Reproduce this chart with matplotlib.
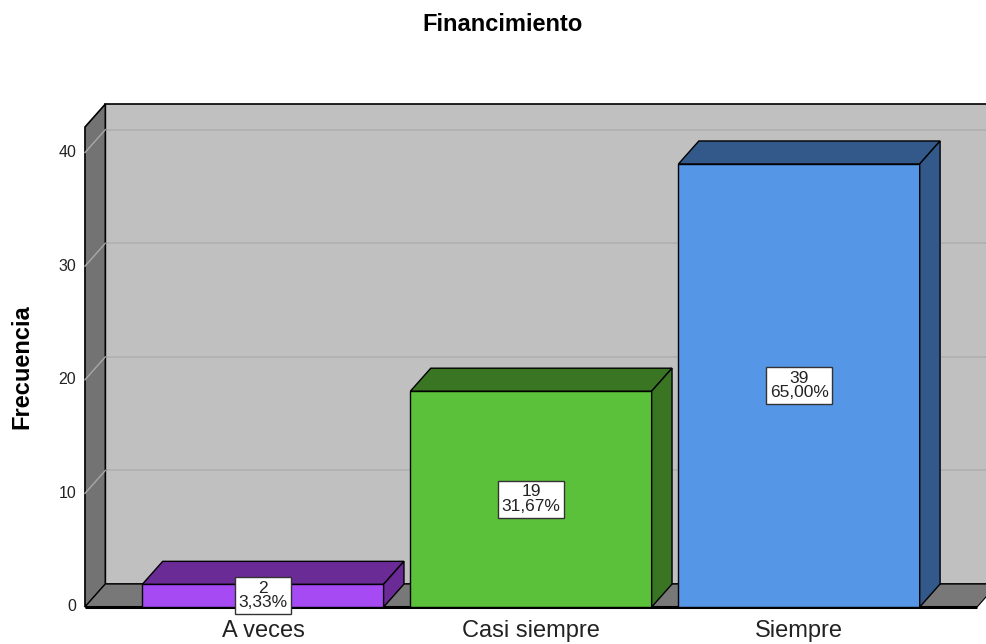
import matplotlib.pyplot as plt
from matplotlib.patches import Polygon

# datos del grafico
categorias = ['A veces', 'Casi siempre', 'Siempre']
frecuencias = [2, 19, 39]
porcentajes = ['3,33%', '31,67%', '65,00%']
colores_frente = ['#a64bf4', '#5cc13a', '#5596e6']
colores_lado = ['#6a2b96', '#3a7524', '#33598a']
ticks_y = [0, 10, 20, 30, 40]

plt.rcParams['font.family'] = ['Liberation Sans', 'DejaVu Sans']

# profundidad del efecto 3D (en unidades de datos)
dx = 0.076
dy = 2.02
ancho = 0.9
x_min, x_max = -0.664, 2.70
y_top = 42.25


def poly(ax, pts, color, z, lw=1.0, ec='black'):
    ax.add_patch(Polygon(pts, closed=True, facecolor=color, edgecolor=ec,
                         linewidth=lw, zorder=z))


fig = plt.figure(figsize=(9.87, 6.44), dpi=100)
ax = fig.add_axes([0, 0, 1, 1])
ax.set_xlim(-0.981, 2.701)
ax.set_ylim(-3.257, 53.43)
ax.axis('off')

# pared del fondo
poly(ax, [(x_min + dx, dy), (x_max + 0.2, dy), (x_max + 0.2, y_top + dy),
          (x_min + dx, y_top + dy)], '#c0c0c0', 1, lw=1.2)

# lineas de cuadricula
for t in ticks_y[1:]:
    ax.plot([x_min + dx, x_max + 0.2], [t + dy, t + dy], color='#b0b0b0',
            lw=1.2, zorder=2)

# panel lateral izquierdo
poly(ax, [(x_min, 0), (x_min, y_top), (x_min + dx, y_top + dy),
          (x_min + dx, dy)], '#737373', 3, lw=1.2)
for t in ticks_y[1:]:
    ax.plot([x_min, x_min + dx], [t, t + dy], color='#a8a8a8', lw=1,
            zorder=4)

# suelo
x_floor = 2.664
poly(ax, [(x_min, 0), (x_floor, 0), (x_floor + dx, dy), (x_min + dx, dy)],
     '#787878', 4, lw=0.8)
ax.plot([x_min, x_floor], [0, 0], color='black', lw=2.2, zorder=5,
        solid_capstyle='butt')

# etiquetas del eje y
for t in ticks_y:
    ax.text(x_min - 0.033, t, str(t), ha='right', va='center', fontsize=11.5,
            color='#222222', zorder=6)

# barras
for i, (cat, f) in enumerate(zip(categorias, frecuencias)):
    x0 = i - ancho / 2
    x1 = i + ancho / 2
    poly(ax, [(x0, 0), (x1, 0), (x1, f), (x0, f)], colores_frente[i], 10)
    poly(ax, [(x0, f), (x1, f), (x1 + dx, f + dy), (x0 + dx, f + dy)],
         colores_lado[i], 10)
    poly(ax, [(x1, 0), (x1 + dx, dy), (x1 + dx, f + dy), (x1, f)],
         colores_lado[i], 10)
    ax.text(i, f / 2, f'{f}\n{porcentajes[i]}', ha='center', va='center',
            fontsize=12.5, linespacing=0.95, zorder=12, color='#222222',
            bbox=dict(boxstyle='square,pad=0.22', facecolor='white',
                      edgecolor='#333333', linewidth=1))
    ax.text(i, -2.15, cat, ha='center', va='center', fontsize=17,
            color='#222222', zorder=12)

ax.text(0.895, 51.3, 'Financimiento', ha='center', va='center',
        fontsize=17, fontweight='bold')
ax.text(-0.899, 21.2, 'Frecuencia', ha='center', va='center', rotation=90,
        fontsize=17, fontweight='bold')

fig.savefig('out.png', dpi=100)
